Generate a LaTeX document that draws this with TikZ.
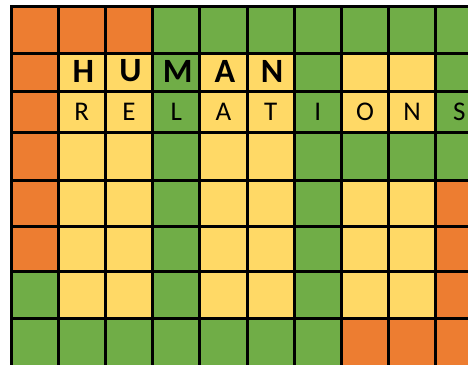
\documentclass[tikz,border=0pt]{standalone}
\usepackage{fontspec}
\setmainfont{Carlito}
\definecolor{cellO}{HTML}{ED7D31}
\definecolor{cellG}{HTML}{70AD47}
\definecolor{cellY}{HTML}{FFD966}
\begin{document}
\begin{tikzpicture}[x=1pt, y=-1pt,
  gridline/.style={line width=3pt, line cap=rect, black},
  bigletter/.style={font=\fontsize{34}{34}\selectfont\bfseries, inner sep=0pt},
  smallletter/.style={font=\fontsize{27}{27}\selectfont, inner sep=0pt},
]
\useasboundingbox (0,0) rectangle (468,364);
\clip (0,0) rectangle (468,364);
\def\colw{47.2}
\def\rowy{{6,53,91,132,180,226,271,318,370}}

% Cell colours, row by row
\foreach \cells [count=\r from 0] in {
  {O,O,O,G,G,G,G,G,G,G},
  {O,Y,Y,G,Y,Y,G,Y,Y,G},
  {O,Y,Y,G,Y,Y,G,Y,Y,G},
  {O,Y,Y,G,Y,Y,G,G,G,G},
  {O,Y,Y,G,Y,Y,G,Y,Y,O},
  {O,Y,Y,G,Y,Y,G,Y,Y,O},
  {G,Y,Y,G,Y,Y,G,Y,Y,O},
  {G,G,G,G,G,G,G,O,O,O}}{
  \pgfmathsetmacro\ytop{\rowy[\r]}
  \pgfmathsetmacro\ybot{\rowy[\r+1]}
  \foreach \c [count=\k from 0] in \cells
    \fill[cell\c] ({11+\k*\colw},\ytop) rectangle ({11+(\k+1)*\colw},\ybot);
}

% Grid
\foreach \k in {0,...,10}
  \draw[gridline] ({11+\k*\colw},6) -- ({11+\k*\colw},375);
\foreach \y in {6,53,91,132,180,226,271,318}
  \draw[gridline] (11,\y) -- (485,\y);

% Words
\foreach \ch [count=\k from 1] in {H,U,M,A,N}
  \node[bigletter] (human-\k) at ({12.5+(\k+0.5)*\colw},71) {\ch};
\foreach \ch [count=\k from 1] in {R,E,L,A,T,I,O,N,S}
  \node[smallletter] (rel-\k) at ({11+(\k+0.5)*\colw},112) {\ch};
\end{tikzpicture}
\end{document}
